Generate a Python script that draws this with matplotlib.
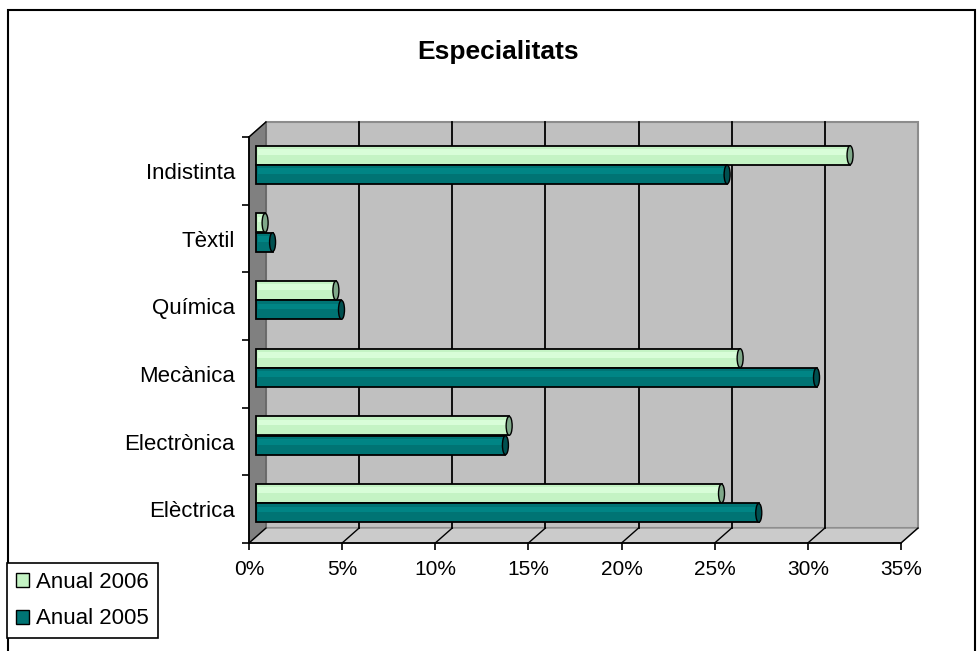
import numpy as np
import matplotlib
matplotlib.use('Agg')
import matplotlib.pyplot as plt
from matplotlib.patches import Polygon, Rectangle, Ellipse, Patch

# Data (percent)
categories = ['Elèctrica', 'Electrònica', 'Mecànica', 'Química', 'Tèxtil', 'Indistinta']
anual_2006 = [25.0, 13.6, 26.0, 4.3, 0.5, 31.9]
anual_2005 = [27.0, 13.4, 30.1, 4.6, 0.9, 25.3]
x_ticks = [0, 5, 10, 15, 20, 25, 30, 35]
x_labels = [f'{t}%' for t in x_ticks]

plt.rcParams['font.family'] = ['Liberation Sans', 'DejaVu Sans']

W, H = 980, 651
fig = plt.figure(figsize=(W / 100, H / 100), dpi=100)

# front plane of the 3D box
ax = fig.add_axes([249 / W, 108 / H, 652 / W, 406 / H])
xmax = x_ticks[-1]
n = len(categories)
y0, y1 = -0.5, n - 0.5
ax.set_xlim(0, xmax)
ax.set_ylim(y0, y1)
ax.patch.set_visible(False)

# depth offset (17 px right, 15 px up) expressed in data units
px_x = 652 / xmax
px_y = 406 / n
ddx = 17 / px_x
ddy = 15 / px_y

light = '#c4f3c4'
light_hi = '#d8fdd8'
light_cap = '#7fa889'
dark = '#007474'
dark_hi = '#008585'
dark_cap = '#005050'

# walls and floor
ax.add_patch(Rectangle((ddx, y0 + ddy), xmax, n, fc='#c0c0c0', ec='#8c8c8c',
                       lw=1.5, clip_on=False, zorder=0))
ax.add_patch(Polygon([(0, y0), (ddx, y0 + ddy), (ddx, y1 + ddy), (0, y1)],
                     closed=True, fc='#808080', ec='#606060', lw=1,
                     clip_on=False, zorder=0.5))
ax.add_patch(Polygon([(0, y0), (xmax, y0), (xmax + ddx, y0 + ddy), (ddx, y0 + ddy)],
                     closed=True, fc='#cbcbcb', ec='#909090', lw=1,
                     clip_on=False, zorder=0.5))

# gridlines on back wall and floor
for t in x_ticks[1:-1]:
    ax.plot([t + ddx, t + ddx], [y0 + ddy, y1 + ddy], color='black', lw=1.3,
            clip_on=False, zorder=0.6)
for t in x_ticks:
    ax.plot([t, t + ddx], [y0, y0 + ddy], color='black', lw=1,
            clip_on=False, zorder=0.6)
ax.plot([0, ddx], [y1, y1 + ddy], color='black', lw=1, clip_on=False, zorder=0.6)

# bars (placed part way into the depth)
depth = 0.4
bx = depth * ddx
by = depth * ddy
h = 0.28
off = 0.143
pos = np.arange(n)
cap_w = 6 / px_x

series = [
    (anual_2006, pos + by + off, light, light_hi, light_cap),
    (anual_2005, pos + by - off, dark, dark_hi, dark_cap),
]
for vals, ys, col, hi, cap in series:
    ax.barh(ys, vals, left=bx, height=h, color=col, edgecolor='black',
            lw=1.3, zorder=2, clip_on=False)
    hw = [max(v - 0.25, 0) for v in vals]
    ax.barh(ys + h * 0.18, hw, left=bx + 0.1, height=h * 0.3, color=hi,
            lw=0, zorder=2.1, clip_on=False)
    for v, yy in zip(vals, ys):
        ax.add_patch(Ellipse((bx + v, yy), cap_w, h, fc=cap, ec='black',
                             lw=1, zorder=2.2, clip_on=False))

# axes styling
ax.set_xticks(x_ticks)
ax.set_xticklabels(x_labels)
ax.tick_params(axis='x', length=5, width=1.2, pad=7, labelsize=15,
               direction='out')
ax.set_yticks(pos)
ax.set_yticklabels(categories)
ax.tick_params(axis='y', which='major', length=0, pad=10, labelsize=16)
ax.set_yticks(np.arange(n + 1) - 0.5, minor=True)
ax.tick_params(axis='y', which='minor', length=5, width=1.2)
for s in ['top', 'right']:
    ax.spines[s].set_visible(False)
for s in ['left', 'bottom']:
    ax.spines[s].set_color('black')
    ax.spines[s].set_linewidth(1.3)
    ax.spines[s].set_zorder(3)

fig.text(498 / W, 1 - 52 / H, 'Especialitats', ha='center', va='center',
         fontsize=19, fontweight='bold')

handles = [
    Patch(fc=light, ec='black', lw=1, label='Anual 2006'),
    Patch(fc=dark, ec='black', lw=1, label='Anual 2005'),
]
leg = fig.legend(handles=handles, loc='upper left',
                 bbox_to_anchor=(7 / W, 1 - 563 / H), frameon=True,
                 fancybox=False, edgecolor='black', framealpha=1, fontsize=16,
                 handlelength=0.6, handleheight=0.6, handletextpad=0.3,
                 borderpad=0.4, labelspacing=0.7, borderaxespad=0)
leg.get_frame().set_linewidth(1.2)

# chart area border
fig.patches.append(Rectangle((8 / W, -0.1), 967 / W, 1.1 - 10 / H,
                             transform=fig.transFigure, fill=False,
                             ec='black', lw=1.5))

fig.savefig('out.png', dpi=100)
